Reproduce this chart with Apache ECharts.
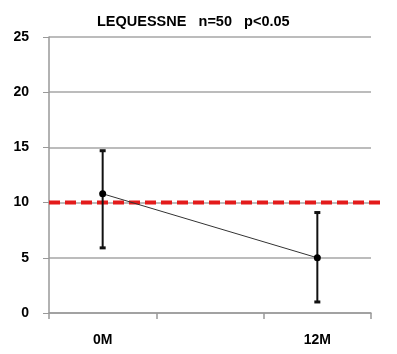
<!DOCTYPE html>
<html>
<head>
<meta charset="utf-8">
<script src="https://cdn.jsdelivr.net/npm/echarts@6/dist/echarts.min.js"></script>
<style>
  html, body { margin: 0; padding: 0; background: #fff; }
  #chart { width: 397px; height: 354px; }
</style>
</head>
<body>
<div id="chart"></div>
<script>
// timepoints (middle band is empty in the original)
var categories = ['0M', '', '12M'];
var means = [10.8, null, 5.0];
var errLow = [5.9, null, 1.0];
var errHigh = [14.7, null, 9.1];
var threshold = 10;
var yTicks = [0, 25, 5]; // min, max, step

var errData = [];
for (var i = 0; i < categories.length; i++) {
    if (means[i] != null) errData.push([i, errLow[i], errHigh[i]]);
}

var myChart = echarts.init(document.getElementById('chart'));
var font = '"Liberation Sans", Arial, sans-serif';

var option = {
    animation: false,
    title: {
        text: 'LEQUESSNE   n=50   p<0.05',
        left: 92,
        top: 9,
        textStyle: { fontFamily: font, fontSize: 14.5, fontWeight: 'bold', color: '#000' }
    },
    grid: { left: 49, right: 26, top: 37, bottom: 41 },
    xAxis: {
        type: 'category',
        data: categories,
        boundaryGap: true,
        axisLine: { lineStyle: { color: '#999', width: 1.5 } },
        axisTick: { show: true, length: 6, lineStyle: { color: '#999', width: 1.5 } },
        axisLabel: { margin: 20, fontFamily: font, fontSize: 14, fontWeight: 'bold', color: '#000' }
    },
    yAxis: {
        type: 'value',
        min: yTicks[0], max: yTicks[1], interval: yTicks[2],
        axisLine: { show: true, lineStyle: { color: '#999', width: 1.5 } },
        axisTick: { show: true, length: 6, lineStyle: { color: '#999' } },
        splitLine: { lineStyle: { color: '#a6a6a6', width: 1.5 } },
        axisLabel: { margin: 20, fontFamily: font, fontSize: 14, fontWeight: 'bold', color: '#000' }
    },
    series: [{
        // reference line, runs a little past the right edge of the plot
        type: 'custom',
        data: [[0, threshold]],
        renderItem: function (params, api) {
            var y = api.coord([0, api.value(1)])[1];
            var cs = params.coordSys;
            return {
                type: 'line',
                shape: { x1: cs.x, y1: y, x2: cs.x + cs.width + 12, y2: y },
                style: { stroke: '#e31b1b', lineWidth: 4, lineDash: [11, 5] }
            };
        },
        z: 3
    }, {
        type: 'custom',
        data: errData,
        renderItem: function (params, api) {
            var x = api.value(0);
            var lo = api.coord([x, api.value(1)]);
            var hi = api.coord([x, api.value(2)]);
            var w = 3;
            var st = { stroke: '#111', lineWidth: 2 };
            return {
                type: 'group',
                children: [
                    { type: 'line', shape: { x1: lo[0], y1: lo[1], x2: hi[0], y2: hi[1] }, style: st },
                    { type: 'line', shape: { x1: lo[0] - w, y1: lo[1], x2: lo[0] + w, y2: lo[1] }, style: { stroke: '#111', lineWidth: 3 } },
                    { type: 'line', shape: { x1: hi[0] - w, y1: hi[1], x2: hi[0] + w, y2: hi[1] }, style: { stroke: '#111', lineWidth: 3 } }
                ]
            };
        },
        z: 4
    }, {
        type: 'line',
        data: means,
        connectNulls: true,
        symbol: 'circle',
        symbolSize: 7,
        itemStyle: { color: '#000' },
        lineStyle: { color: '#333', width: 1 },
        z: 5
    }]
};
myChart.setOption(option);
</script>
</body>
</html>
